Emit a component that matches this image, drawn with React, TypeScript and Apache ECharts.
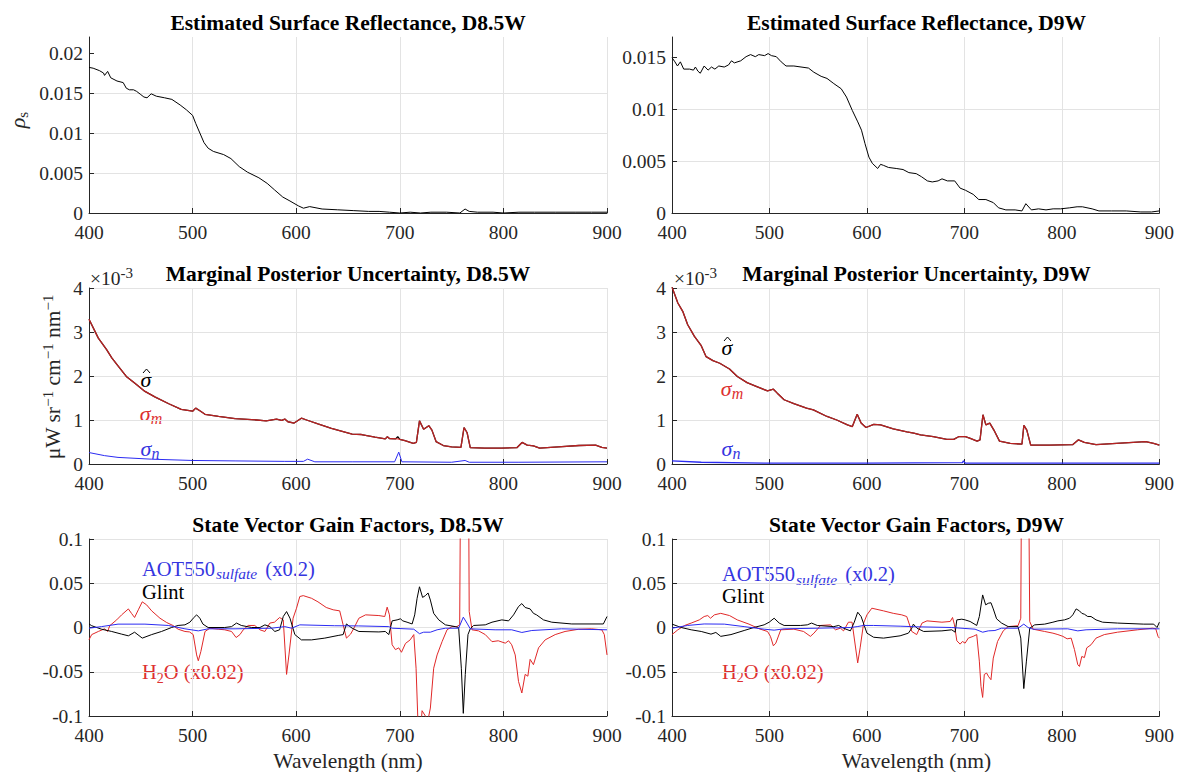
import React, { useEffect, useRef } from 'react';
import * as echarts from 'echarts';

// ---------- Data: [wavelength (nm), value] ----------

// Estimated surface reflectance
const reflD85: number[][] = [
  [400, 0.0182], [404, 0.0181], [410, 0.0178], [414, 0.0175], [415, 0.0172], [418, 0.0177], [421, 0.0169],
  [427, 0.0165], [433, 0.0163], [436, 0.0156], [439, 0.0154], [443, 0.0154], [446, 0.0152], [450, 0.0148],
  [453, 0.0145], [456, 0.0144], [460, 0.0149], [465, 0.0146], [473, 0.0144], [480, 0.0142], [488, 0.0135],
  [494, 0.0129], [500, 0.0122], [503, 0.0112], [507, 0.0100], [511, 0.0088], [515, 0.0081], [520, 0.0077],
  [530, 0.0073], [537, 0.0068], [545, 0.0058], [553, 0.0051], [564, 0.0044], [572, 0.0037], [579, 0.0029],
  [587, 0.0020], [594, 0.0015], [602, 0.0009], [607, 0.0006], [613, 0.0008], [625, 0.0005], [640, 0.0004],
  [655, 0.0003], [670, 0.0002], [680, 0.0002], [690, 0.0001], [700, 0.0000], [710, 0.0001], [720, 0.0000],
  [730, 0.0001], [745, 0.0001], [758, 0.0000], [763, 0.0005], [767, 0.0002], [775, 0.0001], [790, 0.0001],
  [800, 0.0000], [815, 0.0001], [830, 0.0001], [850, 0.0001], [870, 0.0001], [885, 0.0001], [900, 0.0001],
];

const reflD9: number[][] = [
  [400, 0.0150], [403, 0.0146], [405.6, 0.0142], [408.6, 0.0146], [412, 0.0139], [418, 0.0139], [422, 0.0138],
  [424, 0.0141], [426.6, 0.0137], [429, 0.0135], [433, 0.0142], [437, 0.0138], [440.5, 0.0141], [444, 0.0139],
  [448, 0.0142], [453.6, 0.0141], [458, 0.0143], [461, 0.0147], [464, 0.0145], [470.5, 0.0147], [476, 0.0151],
  [480.6, 0.0153], [485.5, 0.0151], [489, 0.0153], [495, 0.0152], [498.6, 0.0154], [502, 0.0152], [507, 0.0151],
  [512, 0.0146], [517, 0.0142], [525, 0.0142], [540, 0.0140], [545.5, 0.0136], [553, 0.0132], [559, 0.0130],
  [566, 0.0125], [573.6, 0.0120], [579, 0.0112], [585, 0.0099], [590.6, 0.0088], [594.4, 0.0080], [598, 0.0067],
  [602, 0.0054], [605.5, 0.0048], [611, 0.0043], [614, 0.0047], [617, 0.0046], [622, 0.0044], [630, 0.0043],
  [637, 0.0042], [643, 0.0039], [650.6, 0.0038], [656, 0.0035], [662, 0.0031], [667, 0.0030], [673, 0.0031],
  [677, 0.0033], [682.5, 0.0031], [690, 0.0031], [695.6, 0.0024], [701, 0.0022], [709, 0.0018], [714.7, 0.0013],
  [722, 0.0013], [729.7, 0.0010], [735, 0.0005], [742.5, 0.0003], [752, 0.0003], [759, 0.0002], [763, 0.0009],
  [768.7, 0.0003], [776, 0.0004], [783.7, 0.0003], [791, 0.0004], [798.6, 0.0004], [808, 0.0005], [815.6, 0.0006],
  [821, 0.0006], [831, 0.0004], [838, 0.0002], [851, 0.0002], [866, 0.0002], [881, 0.0001], [892, 0.0001],
  [900, 0.0002],
];

// Marginal posterior uncertainty, in units of 1e-3 uW sr^-1 cm^-1 nm^-1
const sigmaMD85: number[][] = [
  [400, 3.29], [409, 2.86], [417, 2.60], [422, 2.41], [428, 2.23], [436, 1.99], [444, 1.84], [454, 1.65],
  [464, 1.52], [477, 1.37], [489, 1.24], [500, 1.20], [503, 1.27], [507, 1.21], [512, 1.13], [525, 1.08],
  [541, 1.03], [557, 1.01], [571, 0.98], [581, 1.02], [586, 0.99], [589, 1.02], [592, 0.96], [598, 0.93],
  [605, 1.04], [610, 1.00], [621, 0.91], [634, 0.81], [654, 0.68], [663, 0.67], [676, 0.61], [686, 0.57],
  [688, 0.62], [690, 0.58], [698, 0.57], [705, 0.53], [713, 0.47], [716, 0.49], [719, 0.98], [723, 0.79],
  [728, 0.87], [731, 0.77], [735, 0.51], [742, 0.42], [750, 0.39], [759, 0.38], [762, 0.83], [765, 0.71],
  [768, 0.37], [782, 0.36], [798, 0.36], [813, 0.37], [818, 0.49], [823, 0.43], [829, 0.41], [835, 0.36],
  [853, 0.39], [873, 0.42], [889, 0.43], [895, 0.38], [900, 0.36],
];

const sigmaHatD85: number[][] = [
  [400, 3.29], [409, 2.86], [417, 2.60], [422, 2.41], [428, 2.23], [436, 1.99], [444, 1.84], [454, 1.65],
  [464, 1.52], [477, 1.37], [489, 1.24], [500, 1.20], [503, 1.27], [507, 1.21], [512, 1.13], [525, 1.08],
  [541, 1.03], [557, 1.01], [571, 0.98], [581, 1.02], [586, 0.99], [589, 1.02], [592, 0.96], [598, 0.93],
  [605, 1.04], [610, 1.00], [621, 0.91], [634, 0.81], [654, 0.68], [663, 0.67], [676, 0.61], [686, 0.57],
  [688, 0.62], [690, 0.58], [696, 0.57], [698, 0.62], [700, 0.56], [705, 0.53], [713, 0.47], [716, 0.49],
  [719, 0.98], [723, 0.79], [728, 0.87], [731, 0.77], [735, 0.51], [742, 0.42], [750, 0.39], [759, 0.38],
  [762, 0.83], [765, 0.71], [768, 0.37], [782, 0.36], [798, 0.36], [813, 0.37], [818, 0.49], [823, 0.43],
  [829, 0.41], [835, 0.36], [853, 0.39], [873, 0.42], [889, 0.43], [895, 0.38], [900, 0.36],
];

const sigmaND85: number[][] = [
  [400, 0.26], [415, 0.19], [428, 0.15], [460, 0.11], [500, 0.08], [541, 0.07], [589, 0.06], [607, 0.06],
  [611, 0.11], [618, 0.05], [654, 0.05], [695, 0.05], [699, 0.27], [702, 0.05], [750, 0.04], [763, 0.08],
  [767, 0.04], [815, 0.04], [900, 0.05],
];

const sigmaMD9: number[][] = [
  [400, 4.02], [406, 3.66], [411, 3.47], [416, 3.17], [423, 2.90], [430, 2.69], [435, 2.44], [442, 2.35],
  [449, 2.29], [459, 2.16], [467, 1.99], [477, 1.85], [487, 1.76], [498, 1.66], [504, 1.70], [508, 1.61],
  [515, 1.46], [525, 1.37], [538, 1.27], [545, 1.23], [559, 1.08], [569, 1.00], [580, 0.89], [585, 0.85],
  [590, 1.13], [594, 0.93], [599, 0.83], [607, 0.90], [614, 0.89], [627, 0.80], [641, 0.73], [648, 0.70],
  [655, 0.66], [668, 0.62], [682, 0.56], [689, 0.56], [694, 0.62], [701, 0.62], [706, 0.58], [713, 0.52],
  [716, 0.55], [719, 1.12], [722, 0.89], [726, 0.93], [731, 0.74], [736, 0.52], [747, 0.47], [759, 0.45],
  [761, 0.88], [764, 0.77], [768, 0.43], [787, 0.43], [811, 0.44], [817, 0.55], [823, 0.49], [835, 0.44],
  [856, 0.47], [886, 0.51], [894, 0.47], [900, 0.43],
];

const sigmaHatD9: number[][] = sigmaMD9.map((p) => [p[0], p[1]]);

const sigmaND9: number[][] = [
  [400, 0.07], [430, 0.04], [498, 0.02], [600, 0.02], [698, 0.03], [699, 0.07], [701, 0.02], [900, 0.02],
];

// State vector gain factors
const h2oD85: number[][] = [
  [400, -0.0139], [402.6, -0.008], [409, -0.0045], [415, -0.0015], [418, -0.0045], [420, 0.002], [426.7, 0.0086],
  [431.5, 0.0143], [438, 0.021], [441, 0.016], [444, 0.0113], [447.6, 0.02], [451.4, 0.029], [455.6, 0.0256],
  [460.5, 0.0188], [468.5, 0.0105], [475, 0.0056], [481, 0.0023], [486, -0.0019], [492.6, -0.0045], [497, -0.005],
  [500.6, -0.008], [503.9, -0.031], [505.5, -0.0376], [508, -0.027], [512, -0.0045], [516.7, -0.0008],
  [524.8, -0.0019], [531, -0.0026], [537.6, -0.0045], [542, -0.0113], [545.7, -0.008], [548.9, -0.0026],
  [553.7, 0.0023], [560, 0.0023], [565, -0.0026], [569.8, -0.0045], [574.6, 0.005], [579, 0.006], [584, 0.0113],
  [587.5, 0.0086], [590.7, -0.053], [593, -0.031], [597, 0.0105], [600.3, 0.0218], [603.5, 0.035], [606.8, 0.036],
  [614.8, 0.033], [621, 0.029], [629, 0.0226], [635.7, 0.02], [642, 0.0188], [645.3, 0.003], [648.5, -0.012],
  [652.5, -0.0075], [655.7, -0.0008], [660.5, 0.0105], [667, 0.0143], [679.8, 0.0135], [685.5, 0.0124],
  [687.8, 0.023], [690, 0.0143], [692.6, -0.0195], [695.8, -0.025], [699, -0.023], [701.6, -0.028], [705.5, -0.018],
  [710, -0.014], [713.5, -0.008], [715.7, -0.046], [718.5, -0.14], [721.5, -0.094], [724.7, -0.1], [727.3, -0.104],
  [729.5, -0.091], [732.7, -0.046], [736, -0.031], [740.8, -0.016], [745.6, -0.0026], [750.4, 0.001], [755, 0.001],
  [757.8, 0.003], [759.6, 0.35], [765.6, 0.35], [767, 0.018], [769.7, -0.0026], [776, -0.0038], [782.5, -0.008],
  [789, -0.016], [795, -0.015], [801.8, -0.0177], [805, -0.015], [808, -0.0195], [811.4, -0.031], [814.6, -0.061],
  [817.8, -0.074], [821, -0.053], [823.6, -0.055], [825.8, -0.036], [829, -0.042], [833.9, -0.023], [840.3, -0.014],
  [850, -0.008], [859.5, -0.0045], [872.4, -0.002], [885, -0.0015], [895, -0.0026], [897.4, -0.008], [900, -0.031],
];

const glintD85: number[][] = [
  [400, 0.004], [402.6, 0.002], [412, -0.0019], [421.9, -0.0045], [431.5, -0.0075], [438, -0.0094], [444, -0.0053],
  [451.4, -0.012], [460.5, -0.008], [470, -0.0045], [479.7, 0], [486, 0.0023], [492.6, 0.003], [497.4, 0.006],
  [500.6, 0.0105], [503.9, 0.0143], [507, 0.0105], [510, 0.0038], [515, 0], [531, 0], [537.6, 0.001], [542.4, 0.005],
  [547, 0.0023], [557, 0], [565, 0], [569.8, 0.003], [574.6, 0.001], [579.4, -0.0045], [584, -0.0026], [587.5, 0.0124],
  [590.7, 0.018], [594, 0.0105], [598.7, -0.008], [605, -0.014], [614.8, -0.014], [627.6, -0.012], [640.5, -0.009],
  [645.3, -0.008], [648.5, 0.004], [654, -0.0008], [660.5, -0.0045], [679.8, -0.005], [686, -0.0045], [689.4, -0.008],
  [692.6, 0.0075], [697.4, 0.0086], [700.6, 0.0098], [702.9, 0.0075], [707, 0.006], [711.9, 0.004], [714.4, 0.0143],
  [716.7, 0.033], [719, 0.046], [722, 0.034], [724.7, 0.036], [727.3, 0.039], [729.5, 0.031], [732.7, 0.016],
  [737.6, 0.0086], [744, 0.003], [753.6, 0.001], [756.8, 0], [759.4, -0.046], [761.3, -0.097], [763.2, -0.053],
  [765.8, -0.008], [768, -0.0015], [771.3, 0.0023], [782.5, 0.003], [789, 0.006], [798.5, 0.0086], [805, 0.0075],
  [809.8, 0.0143], [814.6, 0.0237], [817.8, 0.027], [821, 0.0226], [825.8, 0.021], [829, 0.016], [832, 0.0143],
  [838.7, 0.0086], [846.7, 0.006], [866, 0.004], [896.5, 0.004], [900, 0.0124],
];

const aotD85: number[][] = [
  [400, -0.0008], [412, 0.001], [428, 0.0038], [454, 0.0038], [476.5, 0.0023], [492.6, -0.0015], [505.5, -0.0038],
  [515, -0.0015], [541, -0.0015], [576, -0.0008], [589, 0.001], [595.5, -0.0008], [603.5, 0.003], [637, 0.002],
  [660, 0.0018], [689.4, 0.001], [692.6, -0.0008], [713.5, -0.0019], [719, -0.007], [723, -0.0053], [729.5, -0.0053],
  [736, -0.0026], [744, -0.0008], [756.8, -0.0008], [761.3, 0.0117], [764.8, 0.005], [768, -0.0015], [792, -0.0026],
  [808, -0.0026], [817.8, -0.0056], [827.4, -0.0034], [856, -0.0015], [900, -0.0026],
];

const h2oD9: number[][] = [
  [400, -0.008], [406, -0.0026], [413, 0.0023], [419.7, 0.005], [428, 0.0086], [433, 0.0124], [436.7, 0.0135],
  [439.5, 0.0105], [443.5, 0.0143], [450, 0.016], [459, 0.0135], [467, 0.0086], [479, 0.0038], [489.5, -0.0015],
  [498, -0.0045], [501, -0.01], [504, -0.0207], [506.5, -0.0177], [511.6, -0.0026], [525, -0.0019], [535, -0.0045],
  [542, -0.01], [545.6, -0.0064], [552.4, 0.0023], [562.6, 0.003], [567.7, -0.0026], [572.8, -0.0008], [576, -0.0038],
  [581, 0.006], [584.7, 0.006], [590.5, -0.04], [593, -0.023], [596.6, 0.005], [600, 0.0143], [605, 0.0218],
  [617, 0.0188], [627, 0.016], [635.7, 0.0143], [640.8, 0.0124], [646, -0.0045], [651, -0.008], [656.5, 0.005],
  [661.6, 0.0075], [676.9, 0.006], [685.4, 0.0068], [687.8, 0.0113], [689.8, 0.003], [692.2, -0.015], [695.6, -0.0188],
  [698, -0.0158], [700.7, -0.0177], [704, -0.012], [709, -0.01], [712.6, -0.008], [715.3, -0.038], [717, -0.0665],
  [718.7, -0.079], [720.4, -0.053], [722.8, -0.0515], [724.5, -0.055], [727.2, -0.059], [729.6, -0.0346], [734, -0.0158],
  [739.8, -0.0038], [744.9, 0.001], [755, 0.002], [757.8, 0.0105], [759.5, 0.35], [764.6, 0.35], [767, 0.0068],
  [770.4, -0.0019], [782.3, -0.0045], [790.8, -0.0064], [795.9, -0.008], [801, -0.01], [805.4, -0.0128], [809.5, -0.012],
  [812.9, -0.025], [816.3, -0.042], [818, -0.044], [820.4, -0.0327], [823.1, -0.034], [825.5, -0.023], [829.9, -0.0195],
  [835, -0.012], [843.5, -0.008], [857, -0.0053], [877.6, -0.0026], [892.9, -0.0008], [896.3, -0.0015], [898.6, -0.01],
  [900, -0.012],
];

const glintD9: number[][] = [
  [400, 0.0038], [409.5, 0], [419.7, -0.0026], [430, -0.0045], [440, -0.0075], [445, -0.0056], [450, -0.01],
  [460.5, -0.008], [474, -0.0034], [484, 0], [494.5, 0.003], [499.7, 0.006], [504.8, 0.0105], [510, 0.005],
  [515, 0.0023], [532, 0.0023], [538.8, 0.003], [543.2, 0.005], [549, 0.0023], [566, 0.001], [571, 0.0023],
  [576, -0.0008], [583, -0.0038], [587, 0.006], [590.5, 0.0173], [594, 0.0124], [600, -0.0064], [606.8, -0.011],
  [617, -0.012], [634, -0.0094], [642.5, -0.0064], [646, -0.0008], [647.6, 0.0038], [651.4, -0.0008], [658.2, -0.0045],
  [676.9, -0.0038], [687, -0.0026], [690.5, -0.0053], [692.2, 0.0086], [697.3, 0.0094], [700.7, 0.0086], [705.8, 0.0068],
  [712.6, 0.0023], [715.3, 0.0124], [718.7, 0.0368], [721.8, 0.0256], [724.5, 0.0274], [727.2, 0.028], [729.6, 0.021],
  [733, 0.0098], [738.1, 0.005], [744.9, 0.001], [755, 0.001], [757.8, -0.012], [760.9, -0.069], [763.6, -0.038],
  [767, -0.0008], [772.1, 0.003], [782.3, 0.0038], [790.8, 0.006], [795.9, 0.0075], [802.7, 0.0086], [807.8, 0.0105],
  [811.2, 0.0143], [814.6, 0.021], [818, 0.0188], [820.4, 0.016], [823.1, 0.015], [826.5, 0.0124], [829.9, 0.0124],
  [835, 0.0086], [841.8, 0.006], [857, 0.005], [884, 0.0038], [894.2, 0.0038], [897.6, 0], [900, 0.006],
];

const aotD9: number[][] = [
  [400, -0.0008], [416, 0.0023], [433, 0.004], [453.7, 0.0038], [474, 0.001], [494.5, -0.0019], [504.8, -0.003],
  [515, -0.0015], [549, -0.0008], [583, 0], [590, 0.001], [596.6, 0.0023], [606.8, 0.0023], [634, 0.0015],
  [651, 0.0008], [687, 0], [710.9, -0.0019], [718.7, -0.0053], [724.5, -0.0038], [731.3, -0.0034], [738, -0.0008],
  [755, -0.0008], [760.9, 0.0038], [765.3, 0], [770.4, -0.0019], [806, -0.0015], [816.3, -0.0038], [824.8, -0.0026],
  [857, -0.0015], [900, -0.0015],
];

// Tick values
const wavelengthTicks = [400, 500, 600, 700, 800, 900];
const reflTicksD85 = [0, 0.005, 0.01, 0.015, 0.02];
const reflTicksD9 = [0, 0.005, 0.01, 0.015];
const sigmaTicks = [0, 1, 2, 3, 4];
const gainTicks = [-0.1, -0.05, 0, 0.05, 0.1];

const titles = [
  'Estimated Surface Reflectance, D8.5W',
  'Estimated Surface Reflectance, D9W',
  'Marginal Posterior Uncertainty, D8.5W',
  'Marginal Posterior Uncertainty, D9W',
  'State Vector Gain Factors, D8.5W',
  'State Vector Gain Factors, D9W',
];

// ---------- Styling ----------
const FONT = 'Liberation Serif, Times New Roman, serif';
const AXIS = '#262626';
const GRIDC = '#e3e3e3';
const RED = '#e02828';
const BLUE = '#2b2bf2';
const TXT_RED = '#dd3030';
const TXT_BLUE = '#3535e0';
const TICK_FS = 19.5;

const GRIDS = [
  { left: 89, top: 37, width: 518, height: 176 },
  { left: 672, top: 37, width: 489, height: 176 },
  { left: 89, top: 288, width: 518, height: 176 },
  { left: 672, top: 288, width: 489, height: 176 },
  { left: 89, top: 539, width: 518, height: 177 },
  { left: 672, top: 539, width: 489, height: 177 },
];

const fmt = (v: number) => String(parseFloat(v.toPrecision(6)));

function xAxisFor(i: number) {
  return {
    type: 'value',
    gridIndex: i,
    min: wavelengthTicks[0],
    max: wavelengthTicks[wavelengthTicks.length - 1],
    interval: 100,
    axisLine: { show: true, onZero: false, lineStyle: { color: AXIS, width: 1 } },
    axisTick: { show: true, inside: true, length: 5, lineStyle: { color: AXIS } },
    axisLabel: { fontFamily: FONT, fontSize: TICK_FS, color: AXIS, margin: 9, formatter: fmt },
    splitLine: { show: true, lineStyle: { color: GRIDC, width: 1 } },
  };
}

function yAxisFor(i: number, ticks: number[], max: number) {
  const step = ticks[1] - ticks[0];
  const lastTick = ticks[ticks.length - 1];
  const partial = max > lastTick + 1e-9;
  return {
    type: 'value',
    gridIndex: i,
    min: ticks[0],
    max,
    interval: step,
    axisLine: { show: true, onZero: false, lineStyle: { color: AXIS, width: 1 } },
    axisTick: {
      show: true, inside: true, length: 5, lineStyle: { color: AXIS },
      ...(partial ? { customValues: ticks } : {}),
    },
    axisLabel: {
      fontFamily: FONT, fontSize: TICK_FS, color: AXIS, margin: 6,
      ...(partial ? { customValues: ticks } : {}),
      formatter: (v: number) => (v > lastTick + step * 0.1 ? '' : fmt(v)),
    },
    splitLine: { show: true, showMaxLine: !partial, lineStyle: { color: GRIDC, width: 1 } },
  };
}

function lineSeries(i: number, data: number[][], color: string, width = 1, opacity = 1) {
  return {
    type: 'line',
    xAxisIndex: i,
    yAxisIndex: i,
    data,
    showSymbol: false,
    symbol: 'none',
    clip: true,
    silent: true,
    lineStyle: { color, width, opacity },
  };
}

function label(x: number, y: number, text: string, rich: any, align = 'left', rotation = 0) {
  return {
    type: 'text',
    x,
    y,
    rotation,
    silent: true,
    style: { text, rich, align, verticalAlign: 'middle', font: `20px ${FONT}` },
  };
}

const tok = (fill: string, fontSize: number, extra: any = {}) => ({
  fill, fontSize, fontFamily: FONT, lineHeight: 26, ...extra,
});
const subTok = (fill: string, fontSize: number, italic = false, extra: any = {}) => ({
  fill, fontSize, fontFamily: FONT, lineHeight: 13, verticalAlign: 'bottom',
  fontStyle: italic ? 'italic' : 'normal', ...extra,
});
const supTok = (fill: string, fontSize: number) => ({
  fill, fontSize, fontFamily: FONT, lineHeight: 13, verticalAlign: 'top',
});

// sigma with a circumflex accent drawn above it
function sigmaHat(cx: number, cy: number) {
  return [
    label(cx, cy + 2, '{i|σ}', { i: tok('#000', 22, { fontStyle: 'italic' }) }, 'center'),
    {
      type: 'polyline',
      silent: true,
      shape: { points: [[cx - 3, cy - 4], [cx + 0.5, cy - 8], [cx + 4, cy - 4]] },
      style: { stroke: '#000', lineWidth: 1, fill: 'none' },
    },
  ];
}

function buildOption() {
  const centers = GRIDS.map((g) => g.left + g.width / 2);
  const titleY = [23, 23, 273.5, 273.5, 524.5, 524.5];

  const graphics: any[] = [];
  titles.forEach((t, i) => {
    graphics.push({
      type: 'text', x: centers[i], y: titleY[i], silent: true,
      style: { text: t, font: `bold 21.5px ${FONT}`, fill: '#000', align: 'center', verticalAlign: 'middle' },
    });
  });
  [4, 5].forEach((i) => {
    graphics.push({
      type: 'text', x: centers[i], y: 760.5, silent: true,
      style: { text: 'Wavelength (nm)', font: `21.5px ${FONT}`, fill: AXIS, align: 'center', verticalAlign: 'middle' },
    });
  });

  // y-axis labels
  graphics.push(label(17, 120, '{i|ρ}{s|s}', {
    i: tok(AXIS, 22, { fontStyle: 'italic' }), s: subTok(AXIS, 15),
  }, 'center', Math.PI / 2));
  graphics.push(label(53, 377, '{a|μW sr}{p|−1}{a| cm}{p|−1}{a| nm}{p|−1}', {
    a: tok(AXIS, 21.5), p: supTok(AXIS, 15),
  }, 'center', Math.PI / 2));

  // axis exponent markers
  [[90, 278], [674, 278]].forEach(([x, y]) => {
    graphics.push(label(x, y, '{a|×10}{p|-3}', { a: tok(AXIS, 19.5), p: supTok(AXIS, 15) }));
  });

  // curve annotations, uncertainty panels
  const sigmaLabels = [
    { x: 146, y: [377, 413, 448] },
    { x: 727, y: [345, 388, 448] },
  ];
  sigmaLabels.forEach((s) => {
    graphics.push(...sigmaHat(s.x, s.y[0]));
    graphics.push(label(s.x + 5, s.y[1], '{i|σ}{s|m}', {
      i: tok(TXT_RED, 22, { fontStyle: 'italic' }), s: subTok(TXT_RED, 16, true),
    }, 'center'));
    graphics.push(label(s.x + 4, s.y[2], '{i|σ}{s|n}', {
      i: tok(TXT_BLUE, 22, { fontStyle: 'italic' }), s: subTok(TXT_BLUE, 16, true),
    }, 'center'));
  });

  // curve annotations, gain panels
  const gainLabels = [
    { x: 142, y: [568.5, 591.5, 672] },
    { x: 722, y: [574, 596, 671.5] },
  ];
  gainLabels.forEach((g) => {
    graphics.push(label(g.x, g.y[0], '{a|AOT550}{s|sulfate}{a| (x0.2)}', {
      a: tok(TXT_BLUE, 20.5), s: subTok(TXT_BLUE, 15.5, true, { padding: [0, 3, 0, 1] }),
    }));
    graphics.push(label(g.x, g.y[1], '{a|Glint}', { a: tok('#000', 20.5) }));
    graphics.push(label(g.x, g.y[2], '{a|H}{s|2}{a|O (x0.02)}', {
      a: tok(TXT_RED, 20.5), s: subTok(TXT_RED, 14),
    }));
  });

  return {
    animation: false,
    backgroundColor: '#ffffff',
    grid: GRIDS.map((g) => ({ ...g, containLabel: false })),
    xAxis: GRIDS.map((_, i) => xAxisFor(i)),
    yAxis: [
      yAxisFor(0, reflTicksD85, 0.022),
      yAxisFor(1, reflTicksD9, 0.017),
      yAxisFor(2, sigmaTicks, 4),
      yAxisFor(3, sigmaTicks, 4),
      yAxisFor(4, gainTicks, 0.1),
      yAxisFor(5, gainTicks, 0.1),
    ],
    series: [
      lineSeries(0, reflD85, '#000'),
      lineSeries(1, reflD9, '#000'),
      lineSeries(2, sigmaND85, BLUE),
      lineSeries(2, sigmaHatD85, '#000', 1.3),
      lineSeries(2, sigmaMD85, RED, 1.3, 0.82),
      lineSeries(3, sigmaND9, BLUE, 1.3),
      lineSeries(3, sigmaHatD9, '#000', 1.3),
      lineSeries(3, sigmaMD9, RED, 1.3, 0.82),
      lineSeries(4, h2oD85, RED),
      lineSeries(4, glintD85, '#000'),
      lineSeries(4, aotD85, BLUE),
      lineSeries(5, h2oD9, RED),
      lineSeries(5, glintD9, '#000'),
      lineSeries(5, aotD9, BLUE),
    ],
    graphic: graphics,
  };
}

export default function App() {
  const ref = useRef<HTMLDivElement>(null);
  useEffect(() => {
    if (!ref.current) return;
    const chart = echarts.init(ref.current, null, { renderer: 'svg' });
    chart.setOption(buildOption() as any);
    return () => chart.dispose();
  }, []);
  return (
    <div
      ref={ref}
      style={{ position: 'fixed', left: 0, top: 0, width: 1177, height: 772, background: '#fff' }}
    />
  );
}
